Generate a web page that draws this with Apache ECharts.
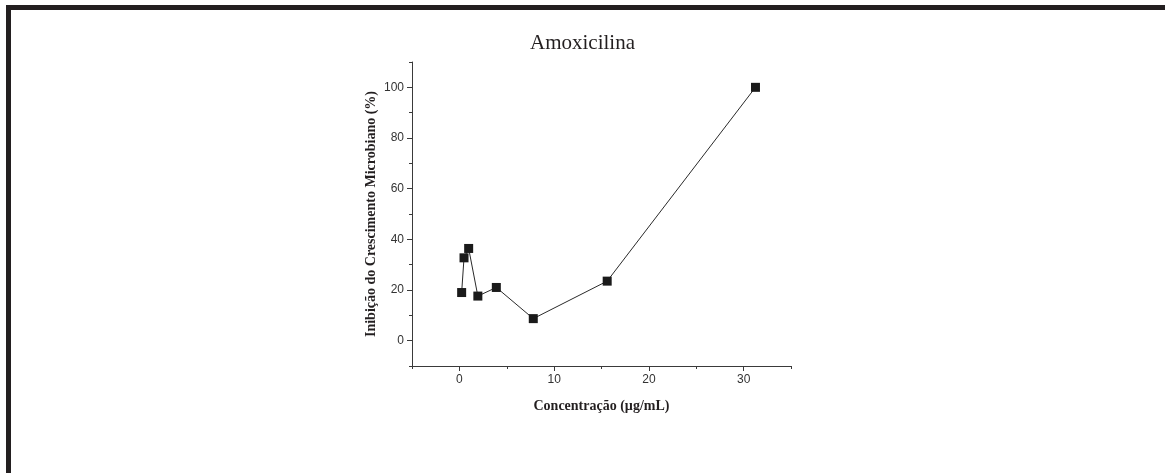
<!DOCTYPE html>
<html>
<head>
<meta charset="utf-8">
<script src="https://cdn.jsdelivr.net/npm/echarts@6/dist/echarts.min.js"></script>
<style>
  html, body { margin: 0; padding: 0; background: #fff; }
  #chart { width: 1165px; height: 473px; }
</style>
</head>
<body>
<div id="chart"></div>
<script>
// Amoxicillin: microbial growth inhibition vs concentration
const concentrations = [0.24, 0.49, 0.98, 1.95, 3.9, 7.8, 15.6, 31.25];
const inhibition = [19.0, 32.7, 36.4, 17.6, 21.0, 8.7, 23.5, 100.0];

const xMajorTicks = [0, 10, 20, 30];
const xMinorTicks = [-5, 5, 15, 25, 35];
const yMajorTicks = [0, 20, 40, 60, 80, 100];
const yMinorTicks = [-10, 10, 30, 50, 70, 90, 110];

const ink = '#231f20';
const axisInk = '#3a3a3a';
const serif = '"Liberation Serif", "Times New Roman", serif';
const sans = '"Liberation Sans", Arial, sans-serif';

const chart = echarts.init(document.getElementById('chart'), null, { renderer: 'canvas' });

const baseX = { type: 'value', min: -5, max: 35, position: 'bottom', splitLine: { show: false } };
const baseY = { type: 'value', min: -10, max: 110, position: 'left', splitLine: { show: false } };

chart.setOption({
  animation: false,
  backgroundColor: '#fff',
  title: {
    text: 'Amoxicilina',
    left: 'center',
    top: 33,
    padding: 0,
    textStyle: { fontFamily: serif, fontSize: 21, fontWeight: 'normal', color: ink }
  },
  grid: { left: 412, top: 62, right: 374, bottom: 107, containLabel: false },
  xAxis: [
    Object.assign({}, baseX, {
      name: 'Concentração (µg/mL)',
      nameLocation: 'middle',
      nameGap: 33,
      nameTextStyle: { fontFamily: serif, fontSize: 14, fontWeight: 'bold', color: ink },
      axisLine: { show: true, onZero: false, lineStyle: { color: axisInk, width: 1 } },
      axisTick: { show: true, inside: false, length: 5, customValues: xMajorTicks, lineStyle: { color: axisInk } },
      axisLabel: { show: true, customValues: xMajorTicks, margin: 8, fontFamily: sans, fontSize: 12, color: '#333' }
    }),
    Object.assign({}, baseX, {
      axisLine: { show: false, onZero: false },
      axisTick: { show: true, inside: false, length: 3, customValues: xMinorTicks, lineStyle: { color: axisInk } },
      axisLabel: { show: false }
    })
  ],
  yAxis: [
    Object.assign({}, baseY, {
      name: 'Inibição do Crescimento Microbiano (%)',
      nameLocation: 'middle',
      nameRotate: 90,
      nameGap: 34,
      nameTextStyle: { fontFamily: serif, fontSize: 14, fontWeight: 'bold', color: ink },
      axisLine: { show: true, onZero: false, lineStyle: { color: axisInk, width: 1 } },
      axisTick: { show: true, inside: false, length: 5, customValues: yMajorTicks, lineStyle: { color: axisInk } },
      axisLabel: { show: true, customValues: yMajorTicks, margin: 8, fontFamily: sans, fontSize: 12, color: '#333' }
    }),
    Object.assign({}, baseY, {
      axisLine: { show: false, onZero: false },
      axisTick: { show: true, inside: false, length: 3, customValues: yMinorTicks, lineStyle: { color: axisInk } },
      axisLabel: { show: false }
    })
  ],
  series: [{
    type: 'line',
    xAxisIndex: 0,
    yAxisIndex: 0,
    data: concentrations.map((c, i) => [c, inhibition[i]]),
    symbol: 'rect',
    symbolSize: 9,
    showAllSymbol: true,
    itemStyle: { color: '#1a1a1a' },
    lineStyle: { color: '#2a2a2a', width: 1 }
  }],
  graphic: [
    // page frame: top and left rules
    { type: 'rect', shape: { x: 6, y: 5, width: 1159, height: 5 }, style: { fill: ink } },
    { type: 'rect', shape: { x: 6, y: 5, width: 5, height: 468 }, style: { fill: ink } }
  ]
});
</script>
</body>
</html>
